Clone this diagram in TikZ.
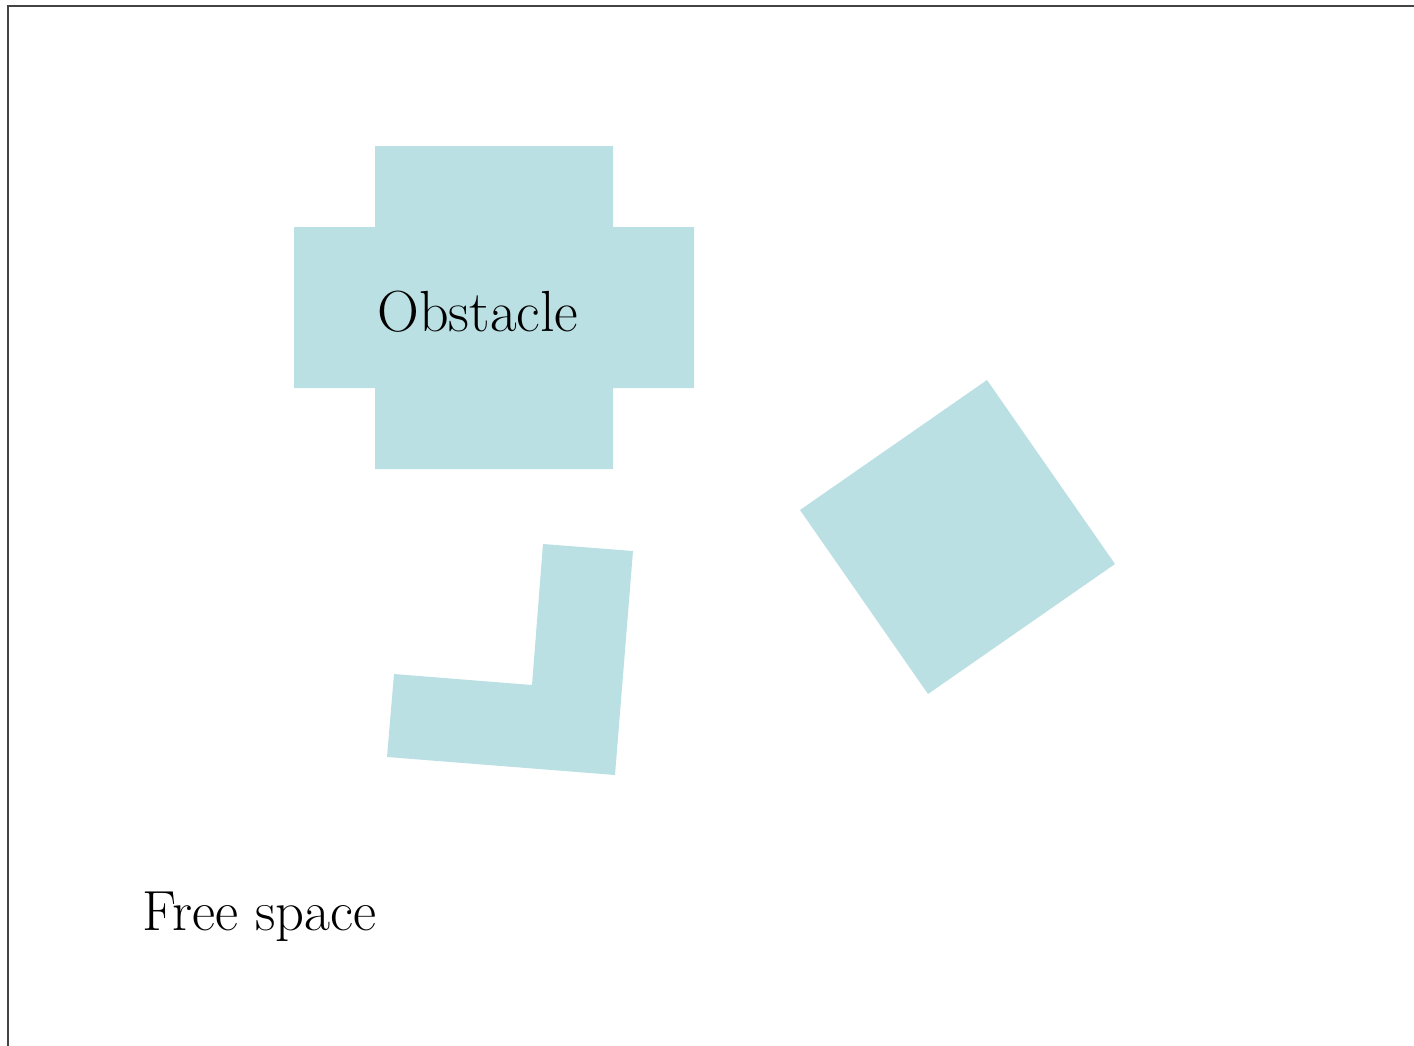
\documentclass[tikz,border=0pt]{standalone}
\usepackage{xcolor}
\usepackage{tikz}
\definecolor{obstcol}{HTML}{BBE0E3}
\definecolor{framecol}{HTML}{444444}

\begin{document}
\begin{tikzpicture}[
    x=0.5pt, y=-0.5pt,
    obst/.style={fill=obstcol, draw=none},
    label/.style={inner sep=0pt, font=\fontsize{29}{34}\selectfont}
]
    \useasboundingbox (0,0) rectangle (1414,1045);

    % Frame
    \draw[framecol, line width=1.2pt] (8,1100) -- (8,6) -- (1460,6);

    % Obstacles
    \fill[obst] (375,146) -- (613,146) -- (613,227) -- (694,227) -- (694,388) -- (613,388)
        -- (613,469) -- (375,469) -- (375,388) -- (294,388) -- (294,227) -- (375,227) -- cycle;
    \fill[obst] (543,544) -- (633,551) -- (615,775) -- (387,757) -- (394,674) -- (532,685) -- cycle;
    \fill[obst] (987,380) -- (1115,564) -- (928,694) -- (800,510) -- cycle;

    % Labels
    \node[label, anchor=base] (obstacle) at (478,331) {Obstacle};
    \node[label, anchor=base west, font=\fontsize{28.3}{34}\selectfont] (free) at (142,930) {Free space};
\end{tikzpicture}
\end{document}
